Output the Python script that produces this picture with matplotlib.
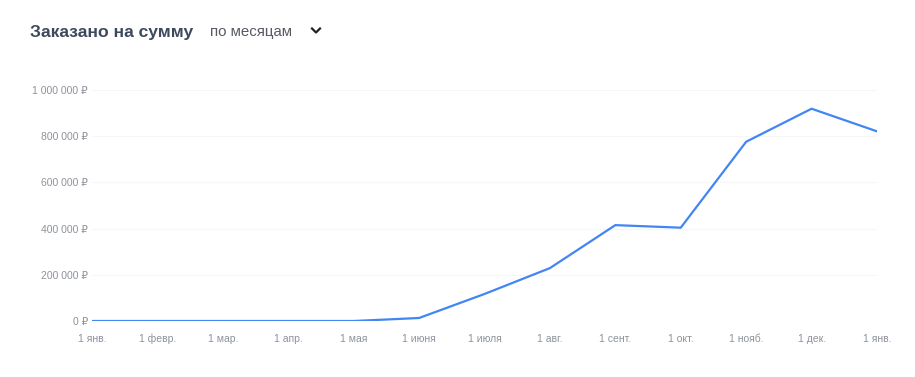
import matplotlib.pyplot as plt
from matplotlib.lines import Line2D

plt.rcParams['font.family'] = ['Liberation Sans', 'DejaVu Sans']

months = ['1 янв.', '1 февр.', '1 мар.', '1 апр.', '1 мая', '1 июня', '1 июля',
          '1 авг.', '1 сент.', '1 окт.', '1 нояб.', '1 дек.', '1 янв.']
amounts = [0, 0, 0, 0, 0, 13000, 117000, 229000, 415000, 404000, 776000, 919000, 821000]
y_ticks = [0, 200000, 400000, 600000, 800000, 1000000]


def rub(v):
    return '{:,} ₽'.format(v).replace(',', ' ')


fig = plt.figure(figsize=(9.15, 3.77), dpi=100)
ax = fig.add_axes([92 / 915, 56 / 377, 785 / 915, 231 / 377])

x = list(range(len(months)))
ax.plot(x, amounts, color='#4285f4', lw=1.6, solid_joinstyle='round', zorder=3)

ax.set_xlim(0, len(months) - 1)
ax.set_ylim(0, 1000000)
ax.set_yticks(y_ticks)
ax.set_yticklabels([rub(v) for v in y_ticks])
ax.set_xticks(x)
ax.set_xticklabels(months)
ax.tick_params(length=0, labelsize=7.5, labelcolor='#8d929b')
ax.tick_params(axis='y', pad=3)
ax.tick_params(axis='x', pad=9)
ax.grid(axis='y', color='#f5f6f7', lw=0.8)
ax.grid(axis='x', visible=False)
for s in ax.spines.values():
    s.set_visible(False)

fig.text(30 / 915, 1 - 32 / 377, 'Заказано на сумму', fontsize=12.6, fontweight='bold',
         color='#3d4a5c', va='center', ha='left')
fig.text(210 / 915, 1 - 32 / 377, 'по месяцам', fontsize=10.8,
         color='#555a63', va='center', ha='left')
# chevron next to the dropdown
fig.add_artist(Line2D([312 / 915, 316 / 915, 320 / 915],
                      [1 - 28.5 / 377, 1 - 32.5 / 377, 1 - 28.5 / 377],
                      color='#222222', lw=1.6, transform=fig.transFigure))

fig.savefig('out.png', dpi=100, facecolor='white')
